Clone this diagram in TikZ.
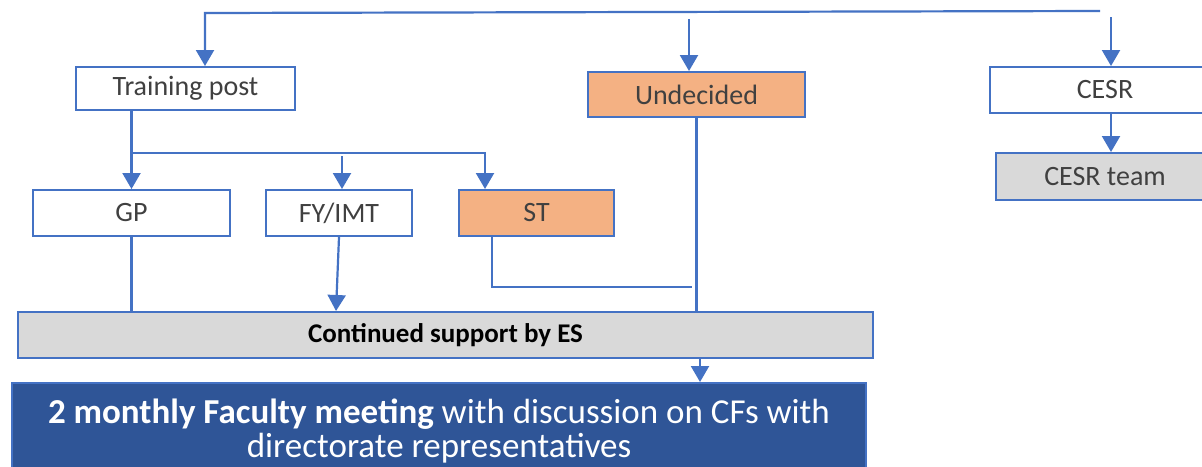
\documentclass[tikz,border=0pt]{standalone}
\usepackage{fontspec}
\setmainfont{Carlito}
\usetikzlibrary{arrows.meta}
\definecolor{boxblue}{HTML}{4472C4}
\definecolor{boxorange}{HTML}{F4B183}
\definecolor{boxgrey}{HTML}{D9D9D9}
\definecolor{boxnavy}{HTML}{2F5597}
\definecolor{textgrey}{HTML}{404040}
\tikzset{
  box/.style={draw=boxblue, line width=1pt, fill=white, text=textgrey,
    inner sep=0pt, font=\fontsize{14}{16}\selectfont},
  line/.style={draw=boxblue, line width=1.1pt},
  arr/.style={line, -{Triangle[width=9pt,length=8pt]}}
}
\begin{document}
\begin{tikzpicture}[x=0.5pt,y=-0.5pt]
    \clip (0,0) rectangle (1202,466);
    \fill[white] (0,0) rectangle (1202,466);

    % boxes
    \node[box, minimum width=109.5pt, minimum height=21.5pt] (tp) at (185.5,88.5) {Training post};
    \node[box, fill=boxorange, minimum width=108.5pt, minimum height=22.5pt] (und) at (696.5,94.5) {Undecided};
    \node[box, minimum width=115pt, minimum height=23pt] (cesr) at (1105,90) {CESR};
    \node[box, fill=boxgrey, minimum width=109pt, minimum height=23.5pt] (cesrt) at (1105,176.5) {CESR team};
    \node[box, minimum width=98.5pt, minimum height=23pt] (gp) at (131.5,213) {GP};
    \node[box, minimum width=73pt, minimum height=23pt] (fy) at (339,213) {FY/IMT};
    \node[box, fill=boxorange, minimum width=77.5pt, minimum height=23pt] (st) at (536.5,213) {ST};
    \node[box, fill=boxgrey, text=black, minimum width=427.5pt, minimum height=23pt,
      font=\fontsize{13.5}{16}\selectfont] (es) at (445.5,335) {\bfseries Continued support by ES};
    \node[box, fill=boxnavy, text=white, minimum width=427pt, minimum height=48pt,
      align=center, font=\fontsize{17.5}{17}\selectfont] (fac) at (439,431)
      {\textbf{2 monthly Faculty meeting} with discussion on CFs with\\directorate representatives};

    % top bus
    \coordinate (busL) at (205,13);
    \coordinate (busR) at (1100,11);
    \coordinate (undin) at (689,19);
    \coordinate (cesrin) at (1111,17);
    \draw[arr] (busR) -- (busL) -- (busL |- tp.north);
    \draw[arr] (undin) -- (undin |- und.north);
    \draw[arr] (cesrin) -- (cesrin |- cesr.north);
    \draw[arr] ([xshift=3pt]cesr.south) -- ([xshift=3pt]cesrt.north);

    % training post branches
    \coordinate (tpsplit) at (133,153);
    \coordinate (fyin) at (342,156);
    \draw[arr] (gp.north |- tp.south) -- (gp.north);
    \draw[arr] (tpsplit) -| (st.north -| 485,0);
    \draw[arr] (fyin) -- (fyin |- fy.north);

    % into continued support
    \coordinate (stend) at (692,287);
    \draw[line] (gp.south) -- (gp.south |- es.north);
    \draw[arr] (fy.south) -- ([xshift=-1.5pt]fy.south |- es.north);
    \draw[line] (st.south -| 492,0) |- (stend);
    \draw[line] (und.south) -- (und.south |- es.north);
    \draw[arr] (es.south -| 700,0) -- (fac.north -| 700,0);
\end{tikzpicture}
\end{document}
